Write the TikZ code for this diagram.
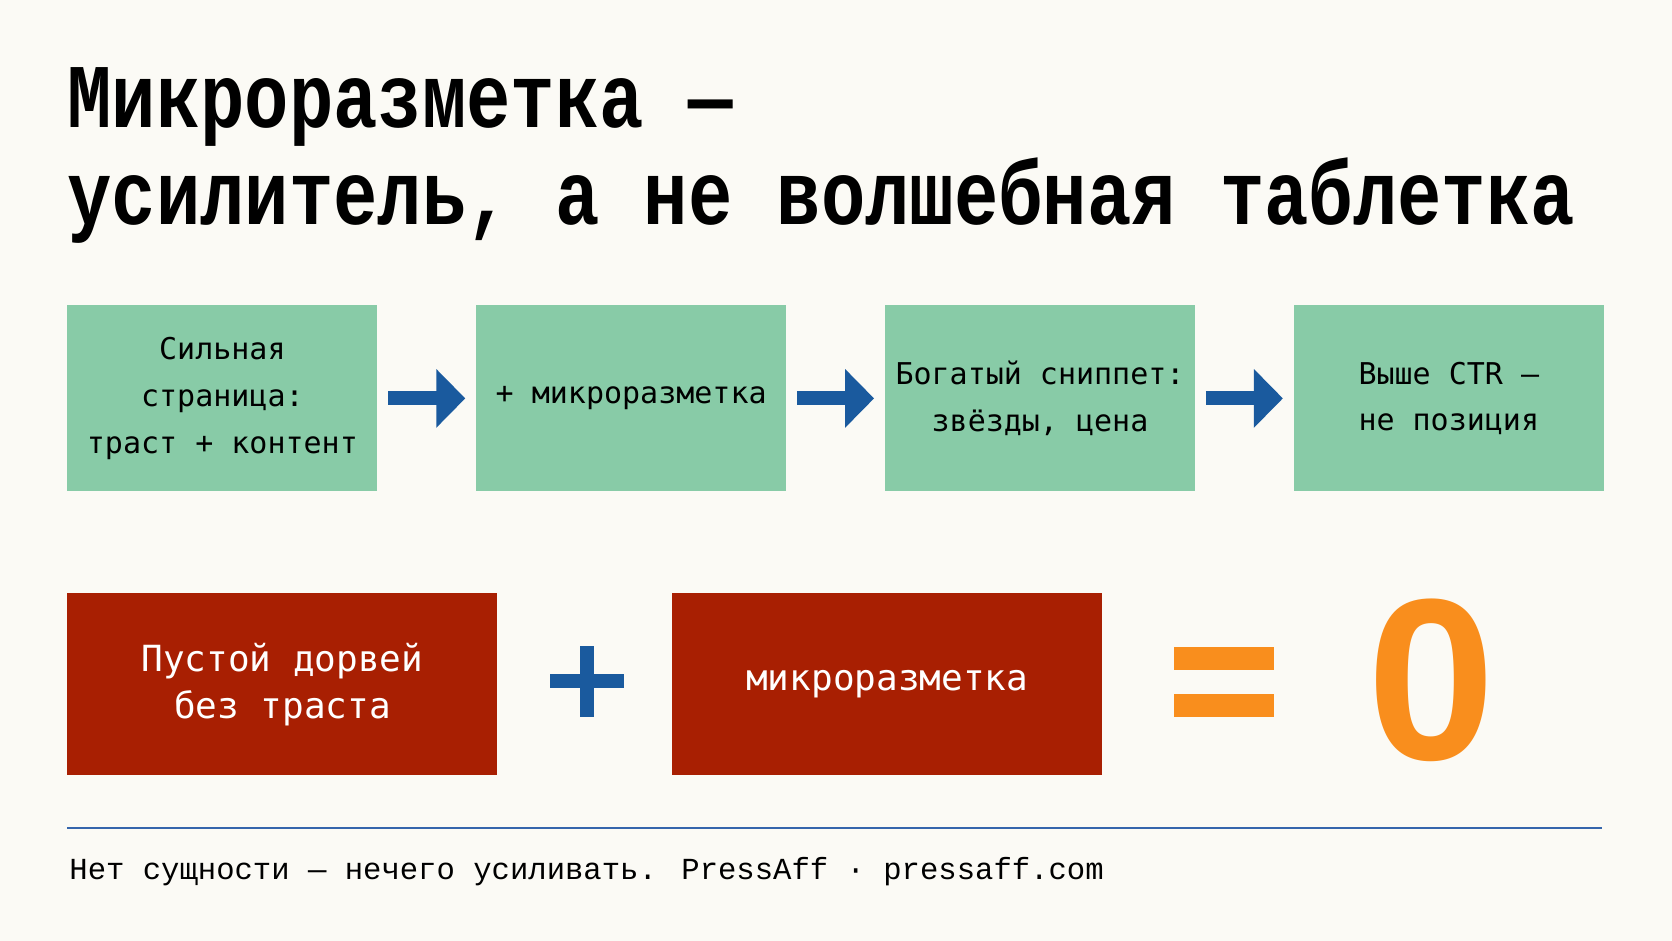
\documentclass[tikz,border=0pt]{standalone}
\usepackage{fontspec}
\usetikzlibrary{positioning,arrows.meta}
\newfontfamily\titlefont[FakeStretch=0.812]{Liberation Mono}
\newfontfamily\boxfont{DejaVu Sans Mono}
\newfontfamily\footfont{Liberation Mono}
\newfontfamily\nolfont{Liberation Sans}
\definecolor{fon}{HTML}{FBFAF5}
\definecolor{zelen}{HTML}{88CBA7}
\definecolor{krasn}{HTML}{A81F02}
\definecolor{sinij}{HTML}{1A5A9E}
\definecolor{oranzh}{HTML}{F98E1D}
\definecolor{liniya}{HTML}{3565AC}

\begin{document}
\begin{tikzpicture}[x=0.5pt, y=-0.5pt, >={Triangle[length=14.5pt, width=28.5pt]},
      g/.style={fill=zelen, minimum width=155pt, minimum height=93pt, inner sep=0pt,
                align=center, font=\boxfont\fontsize{15}{23.3}\selectfont},
      r/.style={fill=krasn, text=white, minimum width=215pt, minimum height=91pt, inner sep=0pt,
                align=center, font=\boxfont\fontsize{18}{23.6}\selectfont},
      flow/.style={->, sinij, line width=7pt, shorten <=5.25pt, shorten >=5.25pt}]
    \path[fill=fon, use as bounding box] (0,0) rectangle (1672,941);
    % zagolovok
    \node[anchor=base west, inner sep=0pt, font=\titlefont\bfseries\fontsize{45.5}{45.5}\selectfont] (zag1) at (67,128) {Микроразметка —};
    \node[anchor=base west, inner sep=0pt, font=\titlefont\bfseries\fontsize{45.5}{45.5}\selectfont] (zag2) at (67,225) {усилитель, а не волшебная таблетка};
    % verhnij ryad
    \node[g, anchor=north west] (s1) at (67,305) {Сильная\\страница:\\траст + контент};
    \node[g, right=49pt of s1] (s2) {+ микроразметка};
    \node[g, right=49pt of s2] (s3) {Богатый сниппет:\\звёзды, цена};
    \node[g, right=49pt of s3] (s4) {Выше CTR —\\не позиция};
    \draw[flow] (s1) -- (s2);
    \draw[flow] (s2) -- (s3);
    \draw[flow] (s3) -- (s4);
    % nizhnij ryad
    \node[r, anchor=north west] (d1) at (67,593) {Пустой дорвей\\без траста};
    \node[r, right=87pt of d1] (d2) {микроразметка};
    \fill[sinij] (550,674) rectangle (623.5,688);
    \fill[sinij] (580,645.5) rectangle (594,716.5);
    \fill[oranzh] (1174,647) rectangle (1274,670);
    \fill[oranzh] (1174,694) rectangle (1274,717);
    \node[text=oranzh, inner sep=0pt, font=\nolfont\bfseries\fontsize{115}{115}\selectfont] (nol) at (1431,680) {0};
    % podval
    \draw[liniya, line width=1.25pt] (67,828) -- (1602,828);
    \node[anchor=base west, inner sep=0pt, font=\footfont\fontsize{15.3}{15.3}\selectfont] (podpis) at (69,879) {Нет сущности — нечего усиливать. PressAff · pressaff.com};
  \end{tikzpicture}
\end{document}
